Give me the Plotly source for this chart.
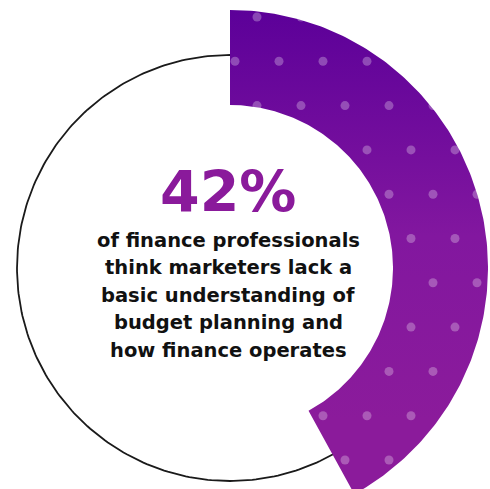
import numpy as np
import plotly.graph_objects as go

# Share of finance professionals in the highlighted segment
share_pct = 42
headline = f"{share_pct}%"
caption_lines = [
    "of finance professionals",
    "think marketers lack a",
    "basic understanding of",
    "budget planning and",
    "how finance operates",
]

W, H = 490, 489
CX, CY = 230, 268          # ring centre (pixels, y downwards)
R_OUT, R_IN = 258, 163     # highlighted band
R_LINE = 213               # thin outline circle
PURPLE = "#8a1a9b"

# angle measured clockwise from 12 o'clock
end_deg = share_pct / 100 * 360


def polar_xy(r, deg):
    t = np.radians(deg)
    return CX + r * np.sin(t), CY - r * np.cos(t)


fig = go.Figure()

# thin outline circle
th = np.linspace(0, 360, 361)
lx, ly = polar_xy(R_LINE, th)
fig.add_trace(go.Scatter(x=lx, y=ly, mode="lines",
                         line=dict(color="#1a1a1a", width=1.8),
                         hoverinfo="skip", showlegend=False))

# highlighted arc segment with a gradient fill
arc = np.linspace(0, end_deg, 200)
ox, oy = polar_xy(R_OUT, arc)
ix, iy = polar_xy(R_IN, arc[::-1])
px = np.concatenate([ox, ix, ox[:1]])
py = np.concatenate([oy, iy, oy[:1]])
fig.add_trace(go.Scatter(
    x=px, y=py, mode="lines", fill="toself",
    line=dict(width=0, color="rgba(0,0,0,0)"),
    fillgradient=dict(type="vertical",
                      colorscale=[[0, "#5c0099"], [0.55, "#82179f"], [1, "#8b1b9b"]],
                      start=10, stop=420),
    hoverinfo="skip", showlegend=False))

# staggered dot texture inside the segment
STEP_X, STEP_Y = 44, 44.3
dx, dy = [], []
for row in range(-1, 13):
    yy = 17 + row * STEP_Y
    x0 = 257 if row % 2 == 0 else 235
    for col in range(-8, 8):
        xx = x0 + col * STEP_X
        r = np.hypot(xx - CX, yy - CY)
        ang = np.degrees(np.arctan2(xx - CX, CY - yy)) % 360
        if R_IN - 3 <= r <= R_OUT + 3 and -2 <= ang <= end_deg + 1:
            dx.append(xx)
            dy.append(yy)
fig.add_trace(go.Scatter(x=dx, y=dy, mode="markers",
                         marker=dict(size=9, color="rgba(255,255,255,0.28)", line=dict(width=0)),
                         hoverinfo="skip", showlegend=False))

# centre text
fig.add_annotation(x=CX - 2, y=192, text=f"<b>{headline}</b>", showarrow=False,
                   font=dict(family="DejaVu Sans", size=57, color=PURPLE),
                   xanchor="center", yanchor="middle")
for i, line in enumerate(caption_lines):
    fig.add_annotation(x=CX - 2, y=240 + i * 27.5, text=f"<b>{line}</b>", showarrow=False,
                       font=dict(family="DejaVu Sans", size=19.5, color="#111111"),
                       xanchor="center", yanchor="middle")

fig.update_layout(
    width=W, height=H, margin=dict(l=0, r=0, t=0, b=0),
    paper_bgcolor="white", plot_bgcolor="white",
    xaxis=dict(range=[0, W], visible=False, fixedrange=True),
    yaxis=dict(range=[H, 0], visible=False, fixedrange=True),
)
fig.write_html("out.html")
